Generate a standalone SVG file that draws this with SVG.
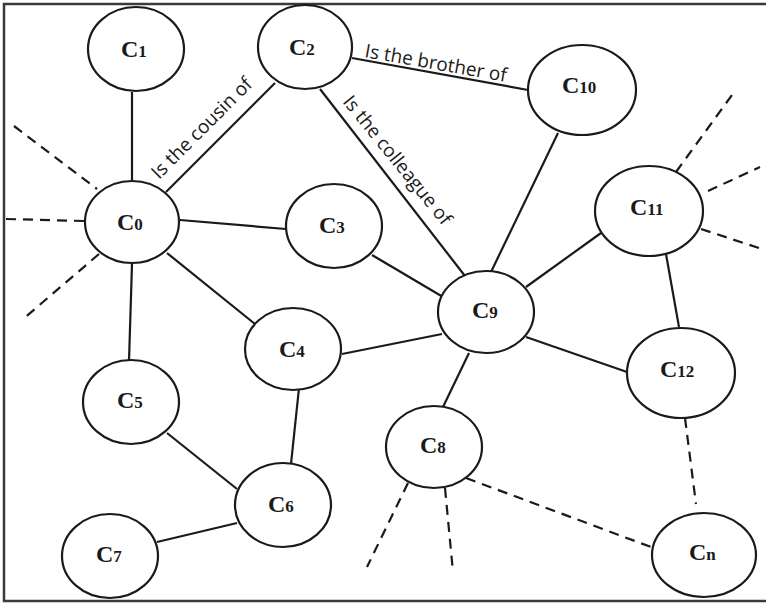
<svg xmlns="http://www.w3.org/2000/svg" width="766" height="603" viewBox="0 0 766 603">
  <style>
    .frame { fill: none; stroke: #3a3a3a; stroke-width: 2.5; }
    .node ellipse { fill: #fff; stroke: #1a1a1a; stroke-width: 2.2; }
    .node text { font-family: "Liberation Serif", "Times New Roman", serif; font-weight: bold; font-size: 24px; fill: #1a1a1a; }
    .node tspan { font-size: 17px; }
    .edge { stroke: #1a1a1a; stroke-width: 2.2; fill: none; }
    .dash { stroke: #1a1a1a; stroke-width: 2.2; fill: none; stroke-dasharray: 10 7; }
    .rel { font-family: "Open Sans", "Liberation Sans", sans-serif; font-size: 19px; fill: #1a1a1a; }
  </style>
  <rect width="766" height="603" fill="#fff"/>
  <rect class="frame" x="4" y="4" width="780" height="597"/>

  <g id="connectors">
    <line class="edge" x1="132" y1="92" x2="132" y2="182"/>
    <line class="edge" x1="166" y1="192" x2="275" y2="83"/>
    <line class="edge" x1="180" y1="220" x2="286" y2="229"/>
    <line class="edge" x1="167" y1="253" x2="255" y2="324"/>
    <line class="edge" x1="132" y1="264" x2="129" y2="361"/>
    <line class="edge" x1="352" y1="58" x2="528" y2="90"/>
    <line class="edge" x1="320" y1="89" x2="465" y2="276"/>
    <line class="edge" x1="558" y1="133" x2="491" y2="272"/>
    <line class="edge" x1="526" y1="287" x2="601" y2="233"/>
    <line class="edge" x1="666" y1="254" x2="679" y2="327"/>
    <line class="edge" x1="372" y1="255" x2="443" y2="297"/>
    <line class="edge" x1="342" y1="354" x2="442" y2="334"/>
    <line class="edge" x1="526" y1="337" x2="627" y2="372"/>
    <line class="edge" x1="469" y1="353" x2="443" y2="407"/>
    <line class="edge" x1="299" y1="388" x2="291" y2="464"/>
    <line class="edge" x1="167" y1="433" x2="237" y2="489"/>
    <line class="edge" x1="237" y1="523" x2="157" y2="542"/>

    <line class="dash" x1="14" y1="126" x2="97" y2="189"/>
    <line class="dash" x1="6" y1="219" x2="84" y2="221"/>
    <line class="dash" x1="99" y1="254" x2="22" y2="320"/>
    <line class="dash" x1="676" y1="172" x2="732" y2="95"/>
    <line class="dash" x1="708" y1="191" x2="760" y2="167"/>
    <line class="dash" x1="701" y1="229" x2="765" y2="250"/>
    <line class="dash" x1="685" y1="418" x2="696" y2="504"/>
    <line class="dash" x1="466" y1="478" x2="651" y2="547"/>
    <line class="dash" x1="408" y1="483" x2="367" y2="567"/>
    <line class="dash" x1="445" y1="488" x2="453" y2="572"/>

    <text class="rel" transform="translate(159,180) rotate(-45)">Is the cousin of</text>
    <text class="rel" transform="translate(364,57) rotate(10)">Is the brother of</text>
    <text class="rel" transform="translate(342,102) rotate(51)">Is the colleague of</text>
  </g>

  <g id="c1" class="node"><ellipse cx="136" cy="49" rx="48" ry="42"/><text x="121" y="57">C<tspan>1</tspan></text></g>
  <g id="c2" class="node"><ellipse cx="305" cy="47" rx="47" ry="42"/><text x="289" y="55">C<tspan>2</tspan></text></g>
  <g id="c0" class="node"><ellipse cx="132" cy="222" rx="47" ry="41"/><text x="117" y="230">C<tspan>0</tspan></text></g>
  <g id="c3" class="node"><ellipse cx="334" cy="226" rx="48" ry="42"/><text x="319" y="233">C<tspan>3</tspan></text></g>
  <g id="c10" class="node"><ellipse cx="582" cy="90" rx="54" ry="45"/><text x="562" y="93">C<tspan>10</tspan></text></g>
  <g id="c11" class="node"><ellipse cx="649" cy="211" rx="54" ry="45"/><text x="630" y="215">C<tspan>11</tspan></text></g>
  <g id="c9" class="node"><ellipse cx="486" cy="312" rx="48" ry="41"/><text x="472" y="318">C<tspan>9</tspan></text></g>
  <g id="c4" class="node"><ellipse cx="293" cy="349" rx="48" ry="41"/><text x="279" y="357">C<tspan>4</tspan></text></g>
  <g id="c12" class="node"><ellipse cx="681" cy="373" rx="54" ry="45"/><text x="660" y="377">C<tspan>12</tspan></text></g>
  <g id="c5" class="node"><ellipse cx="131" cy="402" rx="48" ry="42"/><text x="117" y="408">C<tspan>5</tspan></text></g>
  <g id="c8" class="node"><ellipse cx="434" cy="447" rx="48" ry="41"/><text x="420" y="453">C<tspan>8</tspan></text></g>
  <g id="c6" class="node"><ellipse cx="283" cy="505" rx="48" ry="42"/><text x="268" y="512">C<tspan>6</tspan></text></g>
  <g id="c7" class="node"><ellipse cx="110" cy="556" rx="48" ry="42"/><text x="96" y="562">C<tspan>7</tspan></text></g>
  <g id="cn" class="node"><ellipse cx="704" cy="555" rx="52" ry="42"/><text x="689" y="560">C<tspan>n</tspan></text></g>
</svg>
